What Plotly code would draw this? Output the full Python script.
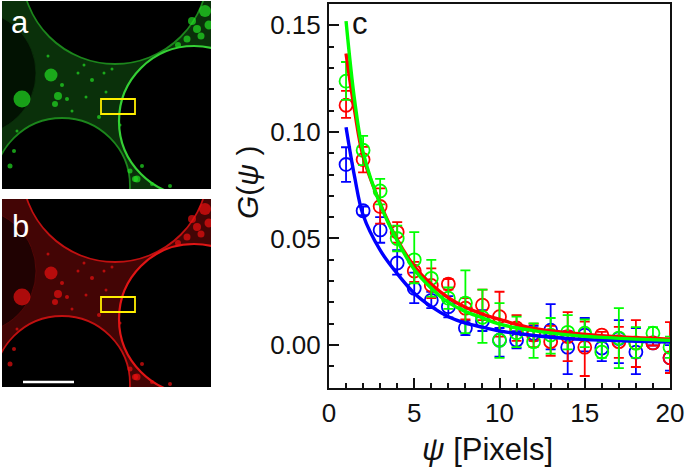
import plotly.graph_objects as go

x_vals = list(range(1, 21))

green_y = [.1238,.0914,.0723,.0500,.0400,.0313,.0220,.0197,.0130,.0023,.0058,.0016,.0047,.0060,.0056,-.0033,.0033,.0009,.0056,-.0010]
green_hi = [.1328,.0981,.0780,.0560,.0530,.0400,.0270,.0350,.0260,.0197,.0133,.0102,.0127,.0140,.0120,.0015,.0173,.0084,.0084,.0040]
green_lo = [.1150,.0844,.0660,.0440,.0290,.0227,.0170,.0056,.0010,-.0060,-.0010,-.0060,-.0040,-.0020,-.0010,-.0060,-.0108,-.0060,.0025,-.0060]

red_y = [.1125,.0870,.0650,.0530,.0347,.0280,.0286,.0173,.0187,.0133,.0080,.0047,.0016,.0040,-.0010,.0047,.0016,.0010,.0010,-.0060]
red_hi = [.1192,.0930,.0735,.0577,.0390,.0360,.0310,.0220,.0260,.0250,.0140,.0100,.0090,.0155,.0110,.0062,.0085,.0117,.0022,.0108]
red_lo = [.1066,.0810,.0570,.0480,.0296,.0220,.0260,.0120,.0117,.0040,.0020,-.0010,-.0050,-.0075,-.0145,.0032,-.0060,-.0103,-.0002,-.0131]

blue_y = [.0847,.0630,.0540,.0385,.0266,.0210,.0180,.0080,.0113,.0023,.0023,.0054,.0070,-.0010,.0047,-.0014,.0030,-.0033,.0010,-.0060]
blue_hi = [.0928,.0650,.0600,.0445,.0340,.0250,.0230,.0115,.0164,.0080,.0065,.0090,.0192,.0065,.0127,.0030,.0117,.0080,.0022,.0000]
blue_lo = [.0766,.0610,.0480,.0330,.0197,.0173,.0130,.0047,.0066,-.0054,-.0015,.0020,-.0020,-.0136,-.0030,-.0075,-.0085,-.0136,-.0002,-.0120]

fit_x = [1, 1.5, 2, 3, 4, 5, 6, 7, 8, 9, 10, 12, 14, 16, 18, 20]
green_fit = [.152,.115,.0905,.0660,.0490,.0355,.0267,.0200,.0157,.0128,.0098,.0068,.0048,.0036,.0028,.0022]
red_fit = [.1368,.110,.0885,.0665,.0495,.0370,.0285,.0222,.0177,.0145,.0120,.0078,.0058,.0044,.0034,.0028]
blue_fit = [.1022,.079,.0610,.0445,.0335,.0243,.0180,.0133,.0103,.0084,.0066,.0045,.0031,.0023,.0018,.0014]

x_ticks = [0, 5, 10, 15, 20]
y_ticks = [0.00, 0.05, 0.10, 0.15]
y_tick_labels = ["0.00", "0.05", "0.10", "0.15"]

# micrograph features, in panel pixels
hole_cx = [113, 192, 60, -28]
hole_cy = [-30, 120, 185, 72]
hole_r = [93, 75, 68, 62]
spot_x = [49, 20, 53, 56, 65, 84, 90, 76, 60, 110, 104, 70, 82, 97, 118, 133, 150, 168, 176, 185, 195, 203, 207, 190, 199, 128, 135, 140, 15, 8, 12, 102, 46]
spot_y = [74, 98, 103, 95, 98, 96, 79, 72, 84, 68, 91, 110, 64, 116, 124, 178, 183, 185, 44, 38, 28, 10, 24, 20, 35, 170, 178, 165, 130, 165, 150, 72, 55]
spot_size = [13, 17, 6, 8, 4, 3, 4, 3, 4, 3, 3, 3, 3, 4, 3, 6, 4, 4, 6, 7, 8, 12, 9, 8, 7, 5, 7, 4, 3, 5, 4, 3, 3]
box_x = [99, 133]
box_y = [98, 113]
bar_x = [21, 72]
bar_y = [183, 183]

blue, red, green = "#0000ff", "#ff0000", "#00ff00"
FONT = "Liberation Sans"
W, H = 685, 467

fig = go.Figure()


def add_errs(ys, hi, lo, color):
    fig.add_trace(go.Scatter(
        x=x_vals, y=ys, mode="markers",
        marker=dict(symbol="circle-open", size=13, color=color, line=dict(width=1.8, color=color)),
        error_y=dict(type="data", symmetric=False,
                     array=[h - v for h, v in zip(hi, ys)],
                     arrayminus=[v - l for l, v in zip(lo, ys)],
                     color=color, thickness=1.8, width=5),
        showlegend=False, hoverinfo="skip"))


add_errs(blue_y, blue_hi, blue_lo, blue)
add_errs(red_y, red_hi, red_lo, red)
add_errs(green_y, green_hi, green_lo, green)
for fy, c in ((blue_fit, blue), (red_fit, red), (green_fit, green)):
    fig.add_trace(go.Scatter(x=fit_x, y=fy, mode="lines",
                             line=dict(color=c, width=3.4, shape="spline", smoothing=1.0),
                             showlegend=False, hoverinfo="skip"))

shapes = []


def panel(xref, yref, bg, dim, edge, faint, bright):
    shapes.append(dict(type="rect", xref=xref, yref=yref, x0=0, x1=209, y0=0, y1=188,
                       fillcolor=bg, line=dict(width=0), layer="below"))
    for i, (cx, cy, r) in enumerate(zip(hole_cx, hole_cy, hole_r)):
        dark = i == 3
        shapes.append(dict(type="circle", xref=xref, yref=yref,
                           x0=cx - r, x1=cx + r, y0=cy - r, y1=cy + r,
                           fillcolor=dim if dark else "#000000",
                           line=dict(color=faint if dark else (bright if i == 1 else edge),
                                     width=0.8 if dark else (2.2 if i == 1 else 1.8)),
                           layer="below"))
    shapes.append(dict(type="rect", xref=xref, yref=yref, x0=box_x[0], x1=box_x[1], y0=box_y[0], y1=box_y[1],
                       fillcolor="rgba(0,0,0,0)", line=dict(color="#ffee00", width=1.8)))


panel("x2", "y2", "#0a300a", "#021202", "#1c861c", "#0a300a", "#35d035")
panel("x3", "y3", "#430505", "#200202", "#c01010", "#5a0808", "#e01515")

fig.add_trace(go.Scatter(x=spot_x, y=spot_y, xaxis="x2", yaxis="y2", mode="markers",
                         marker=dict(size=spot_size, color="#22dd22", line=dict(width=0)),
                         showlegend=False, hoverinfo="skip"))
fig.add_trace(go.Scatter(x=spot_x, y=spot_y, xaxis="x3", yaxis="y3", mode="markers",
                         marker=dict(size=spot_size, color="#e81010", line=dict(width=0)),
                         showlegend=False, hoverinfo="skip"))
fig.add_trace(go.Scatter(x=bar_x, y=bar_y, xaxis="x3", yaxis="y3", mode="lines",
                         line=dict(color="#ffffff", width=2.6),
                         showlegend=False, hoverinfo="skip"))

axis_common = dict(showgrid=False, zeroline=False, showline=True, linecolor="#111111", linewidth=2,
                   mirror=True, ticks="inside", tickcolor="#111111", tickwidth=1.5, ticklen=10,
                   automargin=False,
                   tickfont=dict(family=FONT, size=26, color="#111111"))
hidden = dict(visible=False, showgrid=False, zeroline=False, automargin=False)


def ann(text, x, y, size, color="#111111", angle=0):
    return dict(text=text, xref="paper", yref="paper", x=x / W, y=1 - y / H, showarrow=False,
                xanchor="center", yanchor="middle", textangle=angle,
                font=dict(family=FONT, size=size, color=color))


fig.update_layout(
    width=W, height=H, margin=dict(l=0, r=0, t=0, b=0, pad=0), autosize=False,
    paper_bgcolor="white", plot_bgcolor="white",
    xaxis=dict(domain=[329 / W, 670 / W], range=[0, 20], tickvals=x_ticks, ticklabelstandoff=1,
               minor=dict(dtick=1, ticks="inside", ticklen=5, tickwidth=1.5, tickcolor="#111111"),
               **axis_common),
    yaxis=dict(domain=[1 - 387.7 / H, 1 - 4 / H], range=[-0.02, 0.16], tickvals=y_ticks,
               ticktext=y_tick_labels, ticklabelstandoff=1,
               minor=dict(dtick=0.01, ticks="inside", ticklen=5, tickwidth=1.5, tickcolor="#111111"),
               **axis_common),
    xaxis2=dict(domain=[2 / W, 211 / W], range=[0, 209], **hidden),
    yaxis2=dict(domain=[1 - 189 / H, 1 - 1 / H], range=[188, 0], anchor="x2", **hidden),
    xaxis3=dict(domain=[2 / W, 211 / W], range=[0, 209], **hidden),
    yaxis3=dict(domain=[1 - 387 / H, 1 - 199 / H], range=[188, 0], anchor="x3", **hidden),
    shapes=shapes,
    annotations=[
        ann("a", 20, 22, 31, "#ffffff"),
        ann("b", 20, 226, 31, "#ffffff"),
        ann("c", 360, 23, 31),
        ann("<i>G</i>(<i>ψ</i> )", 247, 182, 30, angle=-90),
        ann("<i>ψ</i> [Pixels]", 487, 449, 31),
    ],
)

fig.write_html("out.html", config=dict(displayModeBar=False),
               post_script="document.body.style.margin='0';document.documentElement.style.overflow='hidden';")
